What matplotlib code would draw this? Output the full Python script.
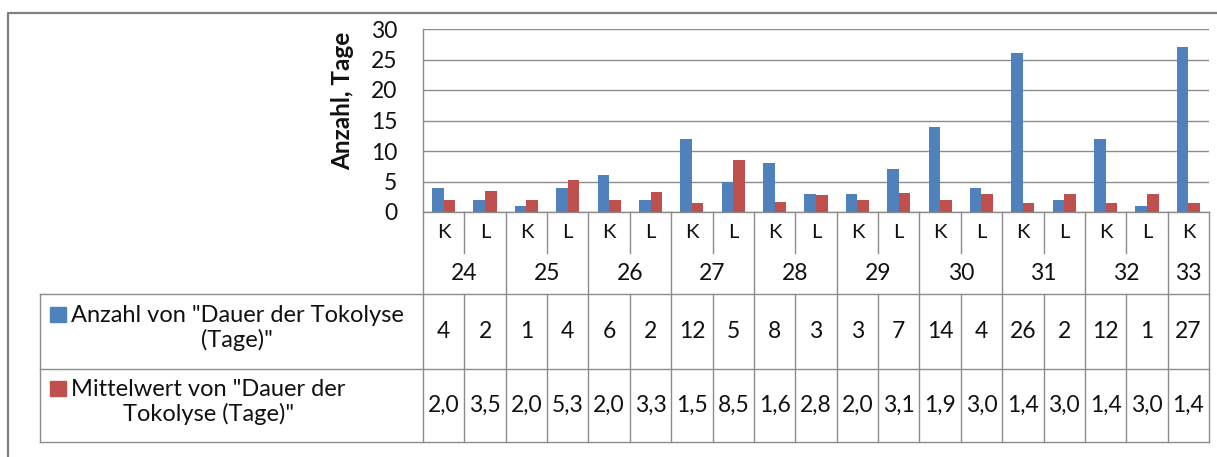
import matplotlib
matplotlib.use("Agg")
import matplotlib.pyplot as plt
from matplotlib.lines import Line2D
from matplotlib.patches import Rectangle

plt.rcParams["font.family"] = ["Lato", "DejaVu Sans"]

# Data (Excel pivot chart with data table)
groups = ["24", "25", "26", "27", "28", "29", "30", "31", "32", "33"]
sub_labels = ["K", "L", "K", "L", "K", "L", "K", "L", "K", "L",
              "K", "L", "K", "L", "K", "L", "K", "L", "K"]
anzahl = [4, 2, 1, 4, 6, 2, 12, 5, 8, 3, 3, 7, 14, 4, 26, 2, 12, 1, 27]
mittelwert = [2.0, 3.5, 2.0, 5.3, 2.0, 3.3, 1.5, 8.5, 1.6, 2.8,
              2.0, 3.1, 1.9, 3.0, 1.4, 3.0, 1.4, 3.0, 1.4]
series_names = ['Anzahl von "Dauer der Tokolyse\n(Tage)"',
                'Mittelwert von "Dauer der\nTokolyse (Tage)"']
y_title = "Anzahl, Tage"
y_ticks = [0, 5, 10, 15, 20, 25, 30]

blue = "#4F81BD"
red = "#C0504D"
grid_c = "#8C8C8C"
txt_c = "#111111"

# layout in pixels
W, H = 1217, 457
plot_l, plot_r, plot_t, axis_y = 423, 1209, 29, 212
kl_b, grp_b, row1_b, row2_b = 253, 294, 369, 442
tab_l = 40


def fx(px):
    return px / W


def fy(py):
    return 1 - py / H


fig = plt.figure(figsize=(W / 100, H / 100), dpi=100)

# outer frame (left and top visible)
fig.add_artist(Line2D([fx(8), fx(8), fx(W)], [fy(H), fy(13), fy(13)],
                      color="#808080", lw=1.6))

n = len(anzahl)
x = list(range(n))
bw = 0.28

ax = fig.add_axes([fx(plot_l), fy(axis_y), fx(plot_r) - fx(plot_l),
                   fy(plot_t) - fy(axis_y)])
ax.bar([i - bw / 2 for i in x], anzahl, width=bw, color=blue, zorder=3)
ax.bar([i + bw / 2 for i in x], mittelwert, width=bw, color=red, zorder=3)
ax.set_xlim(-0.5, n - 0.5)
ax.set_ylim(0, 30)
ax.set_yticks(y_ticks)
ax.set_xticks([])
ax.tick_params(axis="y", length=0, pad=18.5, labelsize=16.5, labelcolor=txt_c)
ax.yaxis.grid(True, color=grid_c, lw=1.0, zorder=0)
for s in ["top", "right"]:
    ax.spines[s].set_visible(False)
for s in ["left", "bottom"]:
    ax.spines[s].set_color(grid_c)
    ax.spines[s].set_linewidth(1.0)

fig.text(fx(343), fy(101), y_title, rotation=90, ha="center", va="center",
         fontsize=17.5, fontweight="bold", color=txt_c)

# category axis + data table
tab = fig.add_axes([fx(tab_l), fy(row2_b), fx(plot_r) - fx(tab_l),
                    fy(axis_y) - fy(row2_b)])
x_left = -0.5 - n * (plot_l - tab_l) / (plot_r - plot_l)
tab.set_xlim(x_left, n - 0.5)
tab.set_ylim(row2_b, axis_y)
tab.axis("off")

lk = dict(color=grid_c, lw=1.0, clip_on=False)
for b in range(-1, n, 2):
    tab.plot([b + 0.5, b + 0.5], [axis_y, row2_b], **lk)
tab.plot([n - 0.5, n - 0.5], [axis_y, row2_b], **lk)
for b in range(0, n - 1, 2):
    tab.plot([b + 0.5, b + 0.5], [axis_y, kl_b], **lk)
    tab.plot([b + 0.5, b + 0.5], [grp_b, row2_b], **lk)
for yy in [grp_b, row1_b, row2_b]:
    tab.plot([x_left, n - 0.5], [yy, yy], **lk)
tab.plot([x_left, x_left], [grp_b, row2_b], **lk)

for i, lab in enumerate(sub_labels):
    tab.text(i, (axis_y + kl_b) / 2, lab, ha="center", va="center",
             fontsize=14.5, color=txt_c)
for g, lab in enumerate(groups):
    xc = 2 * g + 0.5 if 2 * g + 1 < n else 2 * g
    tab.text(xc, (kl_b + grp_b) / 2, lab, ha="center", va="center",
             fontsize=16.5, color=txt_c)

for i in x:
    tab.text(i, (grp_b + row1_b) / 2, str(anzahl[i]), ha="center",
             va="center", fontsize=16.5, color=txt_c)
    tab.text(i, (row1_b + row2_b) / 2, f"{mittelwert[i]:.1f}".replace(".", ","),
             ha="center", va="center", fontsize=16.5, color=txt_c)

# legend keys in the table
for (ty, sq_t), col, name in zip([(328, 307), (402, 381)], [blue, red], series_names):
    fig.add_artist(Rectangle((fx(50), fy(sq_t + 15)), fx(16), fy(sq_t) - fy(sq_t + 15),
                             color=col))
    fig.text(fx(71), fy(ty), name, ha="left", va="center", multialignment="center",
             fontsize=17, linespacing=1.12, color=txt_c)

fig.savefig("out.png", dpi=100)
